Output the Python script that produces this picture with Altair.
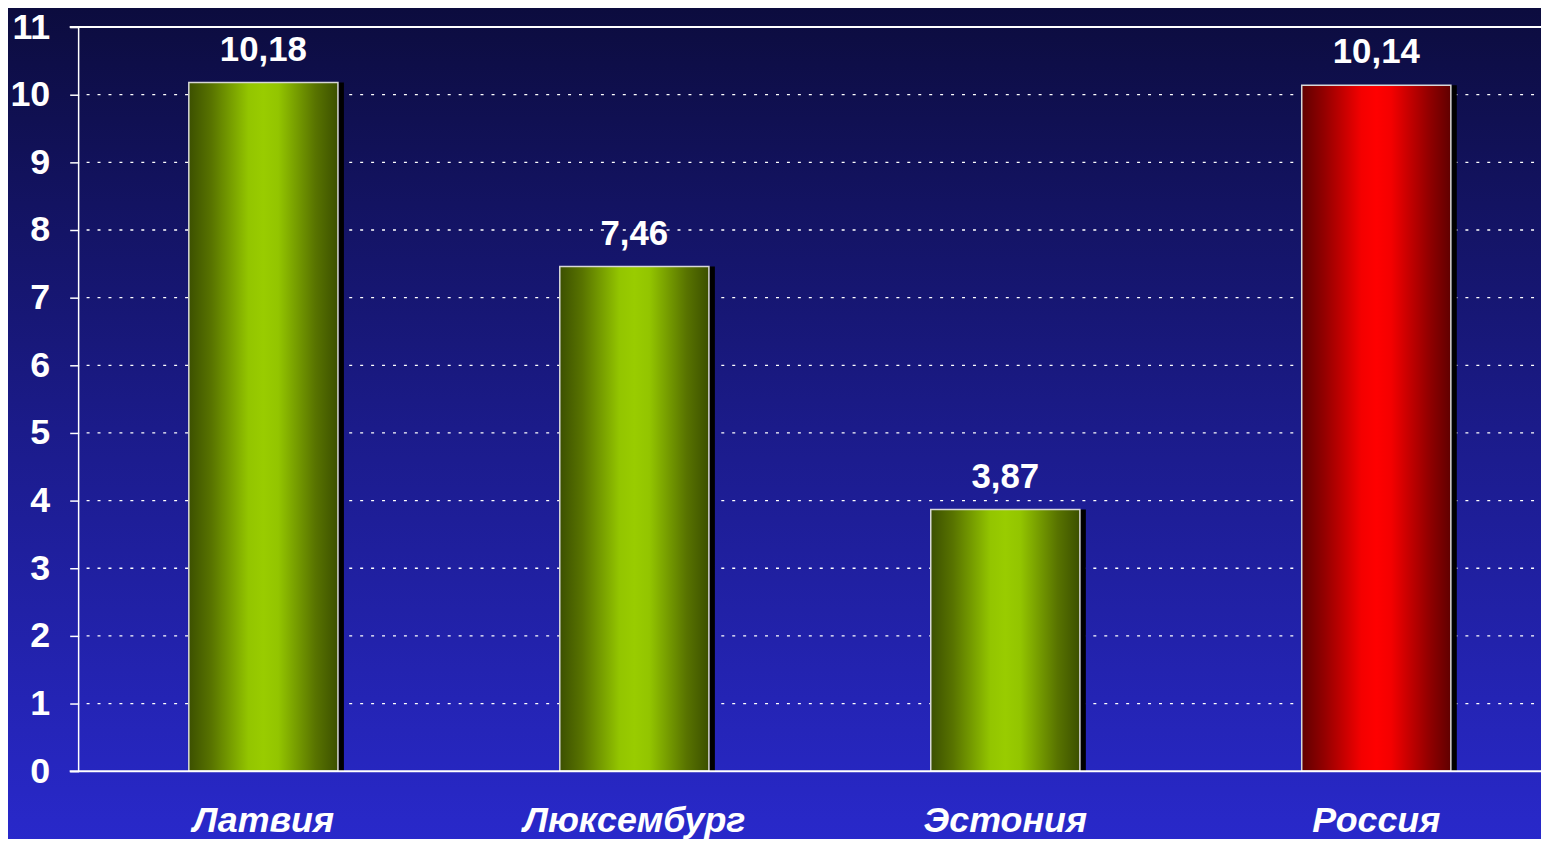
import altair as alt
import pandas as pd

countries = ["Латвия", "Люксембург", "Эстония", "Россия"]
values = [10.18, 7.46, 3.87, 10.14]
highlight = [False, False, False, True]
y_ticks = list(range(0, 12))
grid_values = list(range(1, 11))
frame_values = [0, 11]

W, H = 1470, 748

df = pd.DataFrame({"country": countries, "value": values, "hl": highlight})
grid_df = pd.DataFrame({"v": grid_values})
frame_df = pd.DataFrame({"v": frame_values})

xscale = alt.Scale(domain=countries, paddingInner=0.598, paddingOuter=0.27, align=0.55)
yscale = alt.Scale(domain=[0, 11], nice=False, zero=True)

FONT = "Liberation Sans"

bg = alt.Chart(pd.DataFrame({"a": [0]})).mark_rect(
    clip=False,
    fill=alt.Gradient(
        gradient="linear", x1=0, x2=0, y1=0, y2=1,
        stops=[alt.GradientStop(color="#0c0c3e", offset=0),
               alt.GradientStop(color="#1b1b8a", offset=0.5),
               alt.GradientStop(color="#2929cc", offset=1)],
    ),
).encode(x=alt.value(-80), x2=alt.value(W + 20), y=alt.value(-20), y2=alt.value(H + 80))

grid = alt.Chart(grid_df).mark_rule(color="white", strokeWidth=1.3, strokeDash=[3, 8]).encode(
    y=alt.Y("v:Q", scale=yscale), x=alt.value(8), x2=alt.value(W + 20)
)

base = alt.Chart(df)

x_enc = alt.X("country:N", scale=xscale, sort=countries, title=None,
              axis=alt.Axis(labelFont=FONT, labelFontSize=36, labelFontWeight="bold",
                            labelFontStyle="italic", labelColor="white", labelAngle=0,
                            labelAlign="center", labelLimit=0, labelBaseline="top",
                            labelPadding=33, domain=False, ticks=False, grid=False, zindex=1))
y_enc = alt.Y("value:Q", scale=yscale, title=None,
              axis=alt.Axis(values=y_ticks, format="d", labelFont=FONT, labelFontSize=36,
                            labelFontWeight="bold", labelColor="white", tickColor="white",
                            tickSize=9, tickWidth=1.5, labelPadding=20, domain=False,
                            grid=False, zindex=1))

shadow = base.mark_bar(color="black", xOffset=6).encode(
    x=alt.X("country:N", scale=xscale, sort=countries), y=alt.Y("value:Q", scale=yscale)
)

green_grad = alt.Gradient(
    gradient="linear", x1=0, x2=1, y1=0, y2=0,
    stops=[alt.GradientStop(color="#3c5000", offset=0),
           alt.GradientStop(color="#587300", offset=0.15),
           alt.GradientStop(color="#93c500", offset=0.4),
           alt.GradientStop(color="#99cc00", offset=0.5),
           alt.GradientStop(color="#93c500", offset=0.6),
           alt.GradientStop(color="#587300", offset=0.85),
           alt.GradientStop(color="#3c5000", offset=1)],
)
red_grad = alt.Gradient(
    gradient="linear", x1=0, x2=1, y1=0, y2=0,
    stops=[alt.GradientStop(color="#600000", offset=0),
           alt.GradientStop(color="#930000", offset=0.15),
           alt.GradientStop(color="#f40000", offset=0.4),
           alt.GradientStop(color="#ff0000", offset=0.5),
           alt.GradientStop(color="#f40000", offset=0.6),
           alt.GradientStop(color="#930000", offset=0.85),
           alt.GradientStop(color="#600000", offset=1)],
)

green_bars = base.transform_filter("!datum.hl").mark_bar(
    fill=green_grad, stroke="#d8d8d8", strokeWidth=1.5
).encode(x=x_enc, y=y_enc)
red_bars = base.transform_filter("datum.hl").mark_bar(
    fill=red_grad, stroke="#d8d8d8", strokeWidth=1.5
).encode(x=alt.X("country:N", scale=xscale, sort=countries), y=alt.Y("value:Q", scale=yscale))

frame = alt.Chart(frame_df).mark_rule(color="white", strokeWidth=2, clip=False).encode(
    y=alt.Y("v:Q", scale=yscale), x=alt.value(-9), x2=alt.value(W + 20)
)
yline = alt.Chart(pd.DataFrame({"a": [0]})).mark_rule(color="white", strokeWidth=1.5).encode(
    x=alt.value(0), y=alt.value(0), y2=alt.value(H)
)

labels = base.transform_calculate(
    lbl="replace(format(datum.value, '.2f'), '.', ',')"
).mark_text(font=FONT, fontSize=35, fontWeight="bold", color="white", dy=-22,
            baseline="alphabetic").encode(
    x=alt.X("country:N", scale=xscale, sort=countries),
    y=alt.Y("value:Q", scale=yscale),
    text="lbl:N",
)

chart = alt.layer(bg, grid, shadow, green_bars, red_bars, frame, yline, labels).properties(
    width=W, height=H,
    autosize=alt.AutoSizeParams(type="none"),
    padding={"left": 71, "top": 17, "right": 0, "bottom": 66},
    background="#2020a0",
).configure_view(stroke=None)

chart.save("out.html", embed_options={"renderer": "svg", "actions": False})
